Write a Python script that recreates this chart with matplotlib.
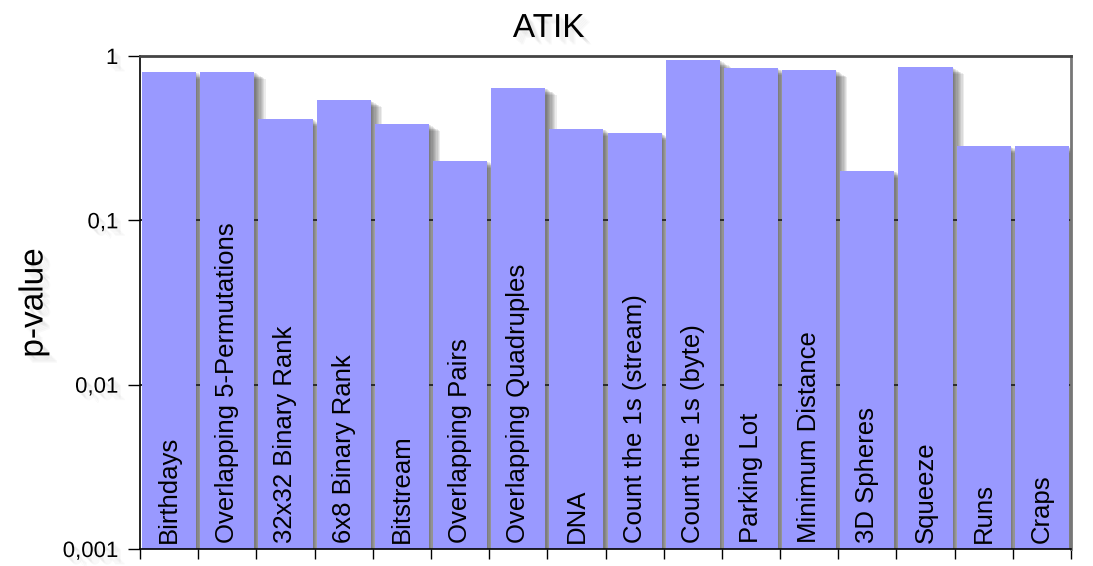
import numpy as np
import matplotlib.pyplot as plt
import matplotlib.patheffects as pe
from matplotlib.ticker import FixedLocator, NullLocator

plt.rcParams['font.family'] = ['Liberation Sans', 'DejaVu Sans']

# Diehard test results
tests = ['Birthdays', 'Overlapping 5-Permutations', '32x32 Binary Rank',
         '6x8 Binary Rank', 'Bitstream', 'Overlapping Pairs',
         'Overlapping Quadruples', 'DNA', 'Count the 1s (stream)',
         'Count the 1s (byte)', 'Parking Lot', 'Minimum Distance',
         '3D Spheres', 'Squeeze', 'Runs', 'Craps']
p_values = [0.80, 0.80, 0.414, 0.54, 0.386, 0.23, 0.64, 0.36, 0.34,
            0.946, 0.845, 0.82, 0.20, 0.857, 0.283, 0.283]
y_ticks = [0.001, 0.01, 0.1, 1]
y_labels = ['0,001', '0,01', '0,1', '1']

bar_color = '#9999ff'
floor = 0.001


def soft_shadow(steps=8, dx=1.0, dy=0.6, alpha=0.06):
    """Stack of offset shadows that fakes a blurred drop shadow."""
    return [pe.SimplePatchShadow(offset=(k * dx, -k * dy), shadow_rgbFace='black',
                                 alpha=alpha) for k in range(1, steps + 1)]


def text_haze():
    return [pe.SimplePatchShadow(offset=(k * 0.9, -k * 0.9), shadow_rgbFace='black',
                                 alpha=0.025) for k in range(2, 7)] + [pe.Normal()]


fig = plt.figure(figsize=(10.93, 5.66), dpi=100)
ax = fig.add_axes([140 / 1093, 1 - 549 / 566, 931 / 1093, 493 / 566])
ax.set_yscale('log')

x = np.arange(len(tests))
heights = np.array(p_values) - floor

# shadows go under the grid, bars go over it
shadow = ax.bar(x, heights, bottom=floor, width=0.93, color=bar_color, zorder=1)
for patch in shadow:
    patch.set_path_effects(soft_shadow(steps=9, dx=0.9, dy=0.55, alpha=0.075))
for gy in [0.01, 0.1]:
    ax.axhline(gy, color='#2a2a2a', lw=1.4, zorder=1.5)
ax.bar(x, heights, bottom=floor, width=0.93, color=bar_color, zorder=2)

for xi, name in zip(x, tests):
    ax.annotate(name, xy=(xi, 0), xycoords=('data', 'axes fraction'),
                xytext=(0, 4.5), textcoords='offset points', rotation=90,
                ha='center', va='bottom', fontsize=18.5, color='black', zorder=3)

ax.set_xlim(-0.5, len(tests) - 0.5)
ax.set_ylim(0.001, 1)
ax.yaxis.set_major_locator(FixedLocator(y_ticks))
ax.yaxis.set_minor_locator(NullLocator())
ax.set_yticklabels(y_labels)
ax.xaxis.set_major_locator(FixedLocator(np.arange(len(tests) + 1) - 0.5))
ax.set_xticklabels([])
ax.tick_params(axis='y', direction='out', length=8.5, width=1, pad=7, labelsize=16)
ax.tick_params(axis='x', direction='out', length=7, width=1)
for lbl in ax.get_yticklabels():
    lbl.set_path_effects(text_haze())

ax.spines['left'].set_color('black')
ax.spines['bottom'].set_color('black')
ax.spines['left'].set_linewidth(1.2)
ax.spines['bottom'].set_linewidth(1.2)
ax.spines['top'].set_color('#444444')
ax.spines['right'].set_color('#777777')
ax.spines['top'].set_linewidth(2)
ax.spines['right'].set_linewidth(2)
for side in ['top', 'right', 'bottom']:
    ax.spines[side].set_path_effects(soft_shadow(steps=7, alpha=0.035) + [pe.Normal()])
ax.spines['bottom'].set_zorder(4)

fig.text(0.502, 1 - 37 / 566, 'ATIK', ha='center', va='baseline', fontsize=24,
         path_effects=text_haze())
fig.text(34 / 1093, 1 - 303 / 566, 'p-value', rotation=90, ha='center',
         va='center', fontsize=24, path_effects=text_haze())

fig.savefig('out.png', dpi=100)
